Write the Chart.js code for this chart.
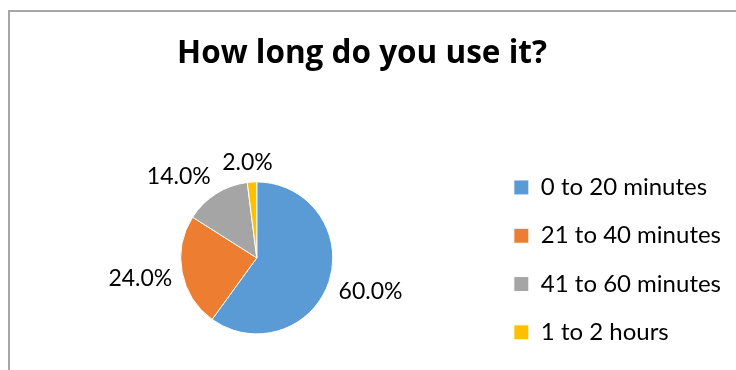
<!DOCTYPE html>
<html>
<head>
<meta charset="utf-8">
<script src="https://cdn.jsdelivr.net/npm/chart.js@4.4.0/dist/chart.umd.min.js"></script>
<style>
  html, body { margin: 0; padding: 0; background: #fff; overflow: hidden; }
  #wrap { position: relative; width: 736px; height: 370px; overflow: hidden; }
  #frame {
    position: absolute; left: 8px; top: 10px; width: 800px; height: 400px;
    border-left: 2px solid #a6a6a6; border-top: 2px solid #a6a6a6;
  }
  #usageChart { position: absolute; left: 0; top: 0; }
</style>
</head>
<body>
<div id="wrap">
  <div id="frame"></div>
  <canvas id="usageChart" width="736" height="380" style="width:736px;height:380px"></canvas>
</div>
<script>
// survey answers, share of respondents per usage time
var categories = ['0 to 20 minutes', '21 to 40 minutes', '41 to 60 minutes', '1 to 2 hours'];
var shares = [60, 24, 14, 2];
var sliceColors = ['#5B9BD5', '#ED7D31', '#A5A5A5', '#FFC000'];
var chartTitle = 'How long do you use it?';

// percent labels sitting just outside each slice
var percentLabels = {
  id: 'percentLabels',
  afterDatasetsDraw: function(chart) {
    var meta = chart.getDatasetMeta(0);
    var values = chart.data.datasets[0].data;
    var total = values.reduce(function(a, b) { return a + b; }, 0);
    var ctx = chart.ctx;
    var clamp = function(v) { return Math.max(-1, Math.min(1, v * 2.5)); };
    ctx.save();
    ctx.font = '23px Lato';
    ctx.fillStyle = '#000';
    ctx.textAlign = 'center';
    ctx.textBaseline = 'middle';
    meta.data.forEach(function(arc, i) {
      var p = arc.getProps(['x', 'y', 'startAngle', 'endAngle', 'outerRadius'], true);
      var mid = (p.startAngle + p.endAngle) / 2;
      var cos = Math.cos(mid), sin = Math.sin(mid);
      var text = (values[i] / total * 100).toFixed(1) + '%';
      var w = ctx.measureText(text).width, h = 18;
      var ax = p.x + (p.outerRadius + 10) * cos;
      var ay = p.y + (p.outerRadius + 10) * sin;
      ctx.fillText(text, ax + clamp(cos) * w / 2, ay + clamp(sin) * h / 2);
    });
    ctx.restore();
  }
};

function draw() {
  var ctx = document.getElementById('usageChart').getContext('2d');
  new Chart(ctx, {
    type: 'pie',
    data: {
      labels: categories,
      datasets: [{
        data: shares,
        backgroundColor: sliceColors,
        borderColor: '#fff',
        borderWidth: 1,
        radius: 76
      }]
    },
    options: {
      responsive: false,
      animation: false,
      // negative left padding keeps the title centred on the whole frame
      layout: { padding: { left: -7, right: 5, top: 0, bottom: 4 } },
      plugins: {
        title: {
          display: true,
          text: chartTitle,
          color: '#000',
          font: { family: 'Open Sans', size: 31.5, weight: 'bold', lineHeight: 1.2 },
          padding: { top: 35, bottom: 67 }
        },
        // empty left box, pushes the pie away from the frame edge
        subtitle: {
          display: true,
          position: 'left',
          text: '',
          font: { size: 11, lineHeight: 1 },
          padding: { top: 10, bottom: 10 }
        },
        legend: {
          position: 'right',
          fullSize: false,
          align: 'center',
          maxWidth: 300,
          // blank title nudges the legend rows down a little
          title: { display: true, text: '', font: { size: 4, lineHeight: 1 }, padding: 0 },
          labels: {
            boxWidth: 15,
            boxHeight: 15,
            padding: 24.3,
            color: '#000',
            font: { family: 'Lato', size: 24 }
          }
        },
        tooltip: { enabled: false }
      }
    },
    plugins: [percentLabels]
  });
}

Promise.all([
  document.fonts.load('bold 31px "Open Sans"'),
  document.fonts.load('24px Lato'),
  document.fonts.load('23px Lato')
]).then(draw, draw);
</script>
</body>
</html>
